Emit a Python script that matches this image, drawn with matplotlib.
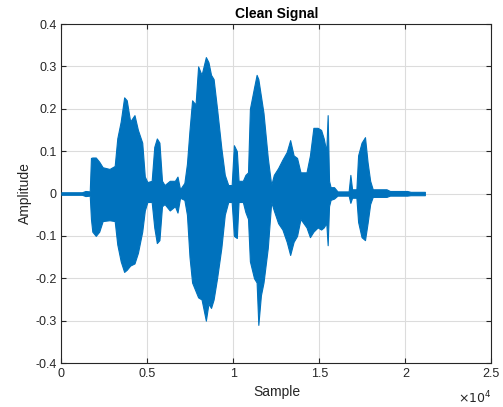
import matplotlib
matplotlib.use("Agg")
import matplotlib.pyplot as plt
import matplotlib.ticker as ticker
import numpy as np

plt.rcParams.update({
    "font.family": ["Liberation Sans", "DejaVu Sans"],
    "axes.unicode_minus": False,
})

# envelope of the waveform (sample index, upper, lower)
samples = [0, 1200, 1400, 1650, 1720, 1800, 2000, 2200, 2400, 2800, 3100, 3250,
           3450, 3650, 3800, 4000, 4250, 4450, 4700, 4850, 5000, 5250, 5400,
           5550, 5700, 5850, 6000, 6300, 6600, 6750, 6900, 7150, 7300, 7450,
           7600, 7800, 7950, 8150, 8400, 8550, 8700, 8850, 9050, 9300, 9500,
           9700, 9900, 10030, 10200, 10300, 10550, 10700, 10850, 10960, 11200,
           11350, 11450, 11600, 11750, 12000, 12200, 12350, 12600, 12850, 13100,
           13300, 13500, 13700, 13900, 14250, 14450, 14650, 14900, 15100, 15250,
           15400, 15480, 15560, 15650, 15850, 16050, 16700, 16800, 16900, 17150,
           17250, 17450, 17650, 17800, 17950, 18100, 18900, 19100, 20100, 20300,
           21130]
upper = [0.003, 0.003, 0.006, 0.005, 0.084, 0.085, 0.085, 0.075, 0.062, 0.058,
         0.065, 0.13, 0.17, 0.227, 0.22, 0.17, 0.185, 0.15, 0.12, 0.04, 0.027,
         0.03, 0.11, 0.13, 0.12, 0.03, 0.02, 0.03, 0.03, 0.04, 0.01, 0.025,
         0.07, 0.15, 0.22, 0.21, 0.30, 0.28, 0.322, 0.31, 0.28, 0.27, 0.20,
         0.107, 0.044, 0.02, 0.02, 0.114, 0.10, 0.03, 0.03, 0.044, 0.05, 0.20,
         0.25, 0.28, 0.27, 0.23, 0.19, 0.084, 0.02, 0.044, 0.06, 0.08, 0.098,
         0.126, 0.09, 0.084, 0.05, 0.05, 0.09, 0.155, 0.155, 0.15, 0.13, 0.10,
         0.185, 0.03, 0.015, 0.015, 0.005, 0.005, 0.044, 0.01, 0.01, 0.09,
         0.12, 0.133, 0.074, 0.03, 0.01, 0.01, 0.006, 0.006, 0.004, 0.004]
lower = [-0.003, -0.003, -0.006, -0.005, -0.06, -0.09, -0.10, -0.09, -0.065,
         -0.063, -0.065, -0.12, -0.16, -0.185, -0.18, -0.17, -0.165, -0.14,
         -0.09, -0.04, -0.02, -0.02, -0.08, -0.117, -0.11, -0.03, -0.025,
         -0.04, -0.03, -0.045, -0.01, -0.015, -0.05, -0.15, -0.21, -0.23,
         -0.245, -0.25, -0.30, -0.26, -0.27, -0.25, -0.20, -0.128, -0.05,
         -0.02, -0.02, -0.10, -0.105, -0.02, -0.02, -0.044, -0.06, -0.16,
         -0.20, -0.21, -0.31, -0.24, -0.21, -0.128, -0.02, -0.04, -0.07,
         -0.085, -0.114, -0.145, -0.114, -0.10, -0.06, -0.08, -0.103, -0.09,
         -0.08, -0.085, -0.08, -0.07, -0.122, -0.03, -0.015, -0.012, -0.005,
         -0.005, -0.022, -0.01, -0.01, -0.067, -0.103, -0.11, -0.07, -0.025,
         -0.008, -0.008, -0.005, -0.005, -0.004, -0.004]

blue = "#0072BD"

fig = plt.figure(figsize=(5.03, 4.07), dpi=100)
ax = fig.add_axes([0.122, 0.108, 0.855, 0.833])

ax.fill_between(samples, lower, upper, color=blue, linewidth=0.8,
                edgecolor=blue, zorder=3)

ax.set_xlim(0, 25000)
ax.set_ylim(-0.4, 0.4)
ax.set_xticks(np.arange(0, 25001, 5000))
ax.xaxis.set_major_formatter(ticker.FuncFormatter(lambda v, _: f"{v / 1e4:g}"))
ax.set_yticks(np.arange(-0.4, 0.41, 0.1))
ax.yaxis.set_major_formatter(ticker.FuncFormatter(lambda v, _: f"{round(v, 1) + 0.0:g}"))

ax.grid(True, color="#dcdcdc", linewidth=0.8, zorder=0)
ax.set_axisbelow(True)
ax.tick_params(direction="in", top=True, right=True, length=3.5, width=0.8,
               labelsize=9, colors="#262626", labelcolor="#262626")
for s in ax.spines.values():
    s.set_linewidth(0.8)
    s.set_color("#262626")

ax.set_title("Clean Signal", fontsize=10, fontweight="bold", color="black", pad=4)
ax.set_xlabel("Sample", fontsize=10, color="#262626", labelpad=4)
ax.set_ylabel("Amplitude", fontsize=10, color="#262626", labelpad=2)
ax.text(1.0, -0.104, r"$\times10^{4}$", transform=ax.transAxes, ha="right",
        va="center", fontsize=9, color="#262626")

fig.savefig("out.png", dpi=100)
